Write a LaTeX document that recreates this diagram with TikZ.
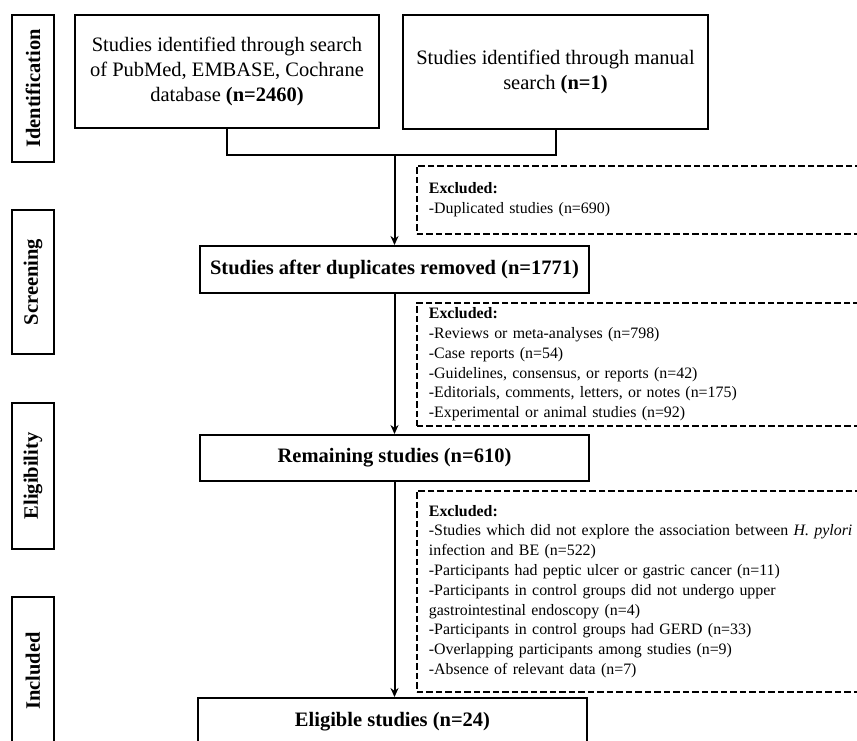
\documentclass[tikz,border=0pt]{standalone}
\usepackage{fontspec}
\setmainfont{Liberation Serif}
\usetikzlibrary{arrows.meta}
\tikzset{
  solidbox/.style={draw, line width=2pt, align=center, inner sep=2pt,
    font=\fontsize{20.5}{25}\selectfont},
  phasebox/.style={draw, line width=2pt, inner sep=0pt,
    font=\fontsize{20.5}{24}\selectfont\bfseries},
  exclbox/.style={draw, line width=1.8pt, dash pattern=on 6.5pt off 3pt,
    align=left, anchor=north west, inner ysep=0pt, inner xsep=12pt, text width=440pt,
    font=\fontsize{15.9}{19.8}\selectfont},
  conn/.style={line width=2pt},
  arr/.style={line width=2pt, -{Stealth[length=9pt,width=8pt]}}
}
\begin{document}
\begin{tikzpicture}[x=1pt,y=-1pt]
\clip (0,0) rectangle (857,740);
\fill[white] (0,0) rectangle (857,740);

% phase labels
\node[phasebox, minimum width=42pt, minimum height=147pt] (pid) at (33,88.5) {\rotatebox{90}{Identification}};
\node[phasebox, minimum width=42pt, minimum height=144pt] (psc) at (33,282) {\rotatebox{90}{Screening}};
\node[phasebox, minimum width=42pt, minimum height=146pt] (pel) at (33,476) {\rotatebox{90}{Eligibility}};
\node[phasebox, minimum width=42pt, minimum height=148pt] (pin) at (33,671) {\rotatebox{90}{Included}};

% main boxes
\node[solidbox, minimum width=304pt, minimum height=113pt] (b1) at (227,71.5)
  {Studies identified through search\\of PubMed, EMBASE, Cochrane\\database \textbf{(n=2460)}};
\node[solidbox, minimum width=305pt, minimum height=114pt] (b2) at (555.5,72)
  {Studies identified through manual\\search \textbf{(n=1)}};
\node[solidbox, minimum width=389pt, minimum height=47pt, font=\fontsize{20.5}{25}\selectfont\bfseries] (s1) at (394.5,269.5)
  {Studies after duplicates removed (n=1771)};
\node[solidbox, minimum width=389pt, minimum height=46pt, font=\fontsize{20.5}{25}\selectfont\bfseries] (s2) at (394.5,458)
  {Remaining studies (n=610)};
\node[solidbox, minimum width=389pt, minimum height=48pt, font=\fontsize{20.5}{25}\selectfont\bfseries] (s3) at (392.5,722)
  {Eligible studies (n=24)};

% excluded boxes
\node[exclbox, minimum height=68pt] (e1) at (416,165)
  {\textbf{Excluded:}\\
   -Duplicated studies (n=690)};
\node[exclbox, minimum height=123pt] (e2) at (416,302)
  {\textbf{Excluded:}\\
   -Reviews or meta-analyses (n=798)\\
   -Case reports (n=54)\\
   -Guidelines, consensus, or reports (n=42)\\
   -Editorials, comments, letters, or notes (n=175)\\
   -Experimental or animal studies (n=92)};
\node[exclbox, minimum height=201pt] (e3) at (416,490)
  {\textbf{Excluded:}\\
   -Studies which did not explore the association between \textit{H.~pylori}\\
   infection and BE (n=522)\\
   -Participants had peptic ulcer or gastric cancer (n=11)\\
   -Participants in control groups did not undergo upper\\
   gastrointestinal endoscopy (n=4)\\
   -Participants in control groups had GERD (n=33)\\
   -Overlapping participants among studies (n=9)\\
   -Absence of relevant data (n=7)};

% connectors
\coordinate (j) at (s1.north |- 0,155);
\draw[conn] (b1.south) -- (b1.south |- j) -| (b2.south);
\draw[arr] (j) -- (s1.north);
\draw[arr] (s1.south) -- (s2.north);
\draw[arr] (s2.south) -- (s2.south |- s3.north);
\end{tikzpicture}
\end{document}
